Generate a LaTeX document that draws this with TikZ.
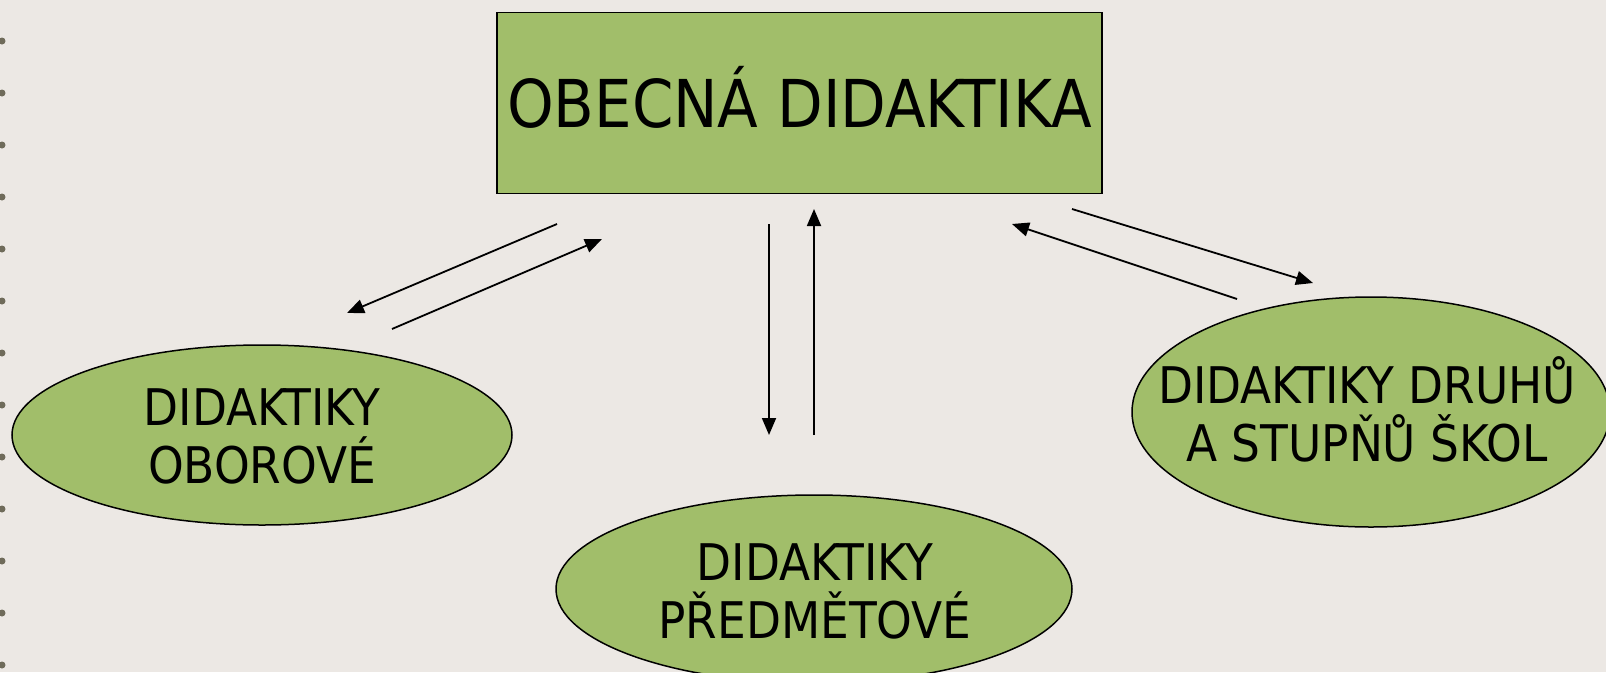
\documentclass[tikz,border=0pt]{standalone}
\usepackage{fontspec}
\setmainfont{DejaVu Sans Condensed}
\usetikzlibrary{arrows.meta,shapes.geometric}
\definecolor{bg}{RGB}{236,232,228}
\definecolor{leaf}{RGB}{161,190,106}
\definecolor{speck}{RGB}{80,76,56}
\begin{document}
\begin{tikzpicture}[x=1pt,y=-1pt,
  shapebox/.style={draw=black,line width=1.5pt,fill=leaf},
  oval/.style={shapebox,ellipse,inner sep=0pt},
  lbl/.style={align=center,font=\fontsize{50.5}{58}\selectfont,inner sep=0pt},
  conn/.style={line width=1.8pt,-{Triangle[length=17pt,width=14pt]}}]
\fill[bg] (0,0) rectangle (1606,672);
\useasboundingbox (0,0) rectangle (1606,672);
% slide bullets at the left edge
\foreach \k in {0,...,12}{
  \fill[speck,opacity=0.8] (2,41+52*\k) circle (3.5pt);
}
% nodes
\node[shapebox,minimum width=605pt,minimum height=181pt,inner sep=0pt,
      font=\fontsize{66}{79}\selectfont,text height=48pt,text depth=0pt]
      (top) at (799.5,103) {OBECNÁ DIDAKTIKA};
\node[oval,minimum width=500pt,minimum height=180pt] (obor) at (262,435) {};
\node[lbl] (oborT) at (262,436) {DIDAKTIKY\\OBOROVÉ};
\node[oval,minimum width=516pt,minimum height=188pt] (pred) at (814,589) {};
\node[lbl] (predT) at (815,591) {DIDAKTIKY\\PŘEDMĚTOVÉ};
\node[oval,minimum width=478pt,minimum height=230pt] (druh) at (1371,412) {};
\node[lbl] (druhT) at (1367,409) {DIDAKTIKY DRUHŮ\\A STUPŇŮ ŠKOL};
% connector end points
\coordinate (a1s) at (557,224); \coordinate (a1e) at (347,313);
\coordinate (a2s) at (392,329); \coordinate (a2e) at (602,239);
\coordinate (a3s) at (769,224); \coordinate (a3e) at (769,435);
\coordinate (a4s) at (814,435); \coordinate (a4e) at (814,209);
\coordinate (a5s) at (1072,209); \coordinate (a5e) at (1313,283);
\coordinate (a6s) at (1237,299); \coordinate (a6e) at (1012,224);
\draw[conn] (a1s) -- (a1e);
\draw[conn] (a2s) -- (a2e);
\draw[conn] (a3s) -- (a3e);
\draw[conn] (a4s) -- (a4e);
\draw[conn] (a5s) -- (a5e);
\draw[conn] (a6s) -- (a6e);
\end{tikzpicture}
\end{document}
